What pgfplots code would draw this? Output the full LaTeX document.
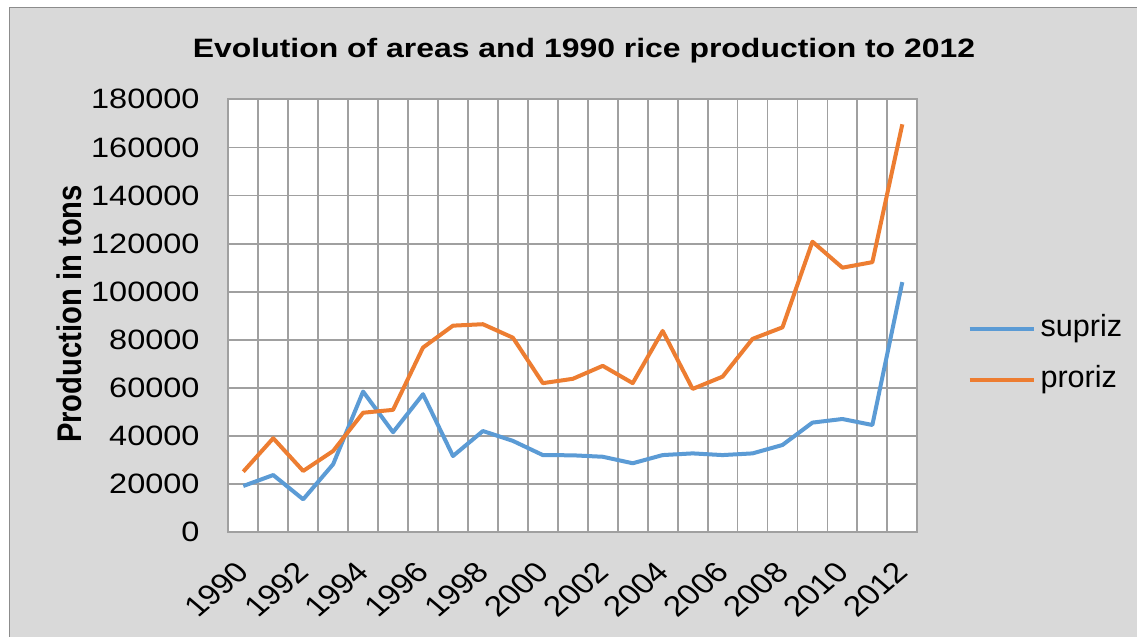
\documentclass[border=0pt]{standalone}
\usepackage{fontspec}
\setmainfont{Liberation Sans}
\usepackage{pgfplots}
\usepackage{pgfplotstable}
\pgfplotsset{compat=1.18}
\definecolor{bgray}{HTML}{D9D9D9}
\definecolor{framegray}{HTML}{8C8C8C}
\definecolor{gridgray}{HTML}{A0A0A0}
\definecolor{sblue}{HTML}{5B9BD5}
\definecolor{porange}{HTML}{ED7D31}
\pgfplotstableread{
year supriz proriz
1990 19250 25200
1991 23800 39100
1992 13700 25500
1993 28300 33800
1994 58500 49700
1995 41600 50900
1996 57400 76800
1997 31700 85900
1998 42100 86500
1999 38000 80900
2000 32100 62000
2001 32000 63800
2002 31400 69200
2003 28700 62000
2004 32100 83700
2005 32800 59600
2006 32100 64700
2007 32800 80400
2008 36300 85200
2009 45600 120800
2010 47100 110000
2011 44600 112300
2012 104000 169600
}\datatable
\begin{document}
\begin{tikzpicture}
\useasboundingbox (0pt,0pt) rectangle (568.5pt,318.5pt);
\fill[bgray] (4.8pt,-10pt) rectangle (580pt,314.8pt);
\draw[framegray, line width=0.6pt] (4.8pt,-10pt) -- (4.8pt,314.8pt) -- (580pt,314.8pt);
\node[font=\fontsize{13.3}{16}\selectfont\bfseries, anchor=base, xscale=1.2] at (292pt,289.85pt) {Evolution of areas and 1990 rice production to 2012};
\node[font=\fontsize{14.6}{16}\selectfont\bfseries, anchor=base, xscale=1.17, rotate=90] at (40.85pt,161.5pt) {Production in tons};
\begin{axis}[
  at={(114.15pt,52.35pt)}, anchor=south west,
  scale only axis, width=344.5pt, height=216.5pt,
  xmin=1989.5, xmax=2012.5, ymin=0, ymax=180000,
  xtick={1990,1992,...,2012},
  minor xtick={1989.5,1990.5,...,2012.5},
  ytick={0,20000,...,180000},
  scaled y ticks=false, scaled x ticks=false,
  /pgf/number format/fixed,
  /pgf/number format/precision=0,
  /pgf/number format/1000 sep={},
  /pgf/number format/assume math mode=true,
  xmajorgrids=false, xminorgrids=true, ymajorgrids=true,
  grid style={gridgray, line width=0.9pt},
  minor grid style={gridgray, line width=0.9pt},
  axis line style={gridgray, line width=0.9pt},
  major tick length=0pt, minor tick length=0pt,
  axis background/.style={fill=white},
  yticklabel style={font=\fontsize{14}{14}\selectfont, anchor=east, inner sep=0pt, xshift=-14.15pt, xscale=1.16},
  xticklabel style={font=\fontsize{14.3}{14}\selectfont, anchor=east, inner sep=0pt, yshift=-17.2pt, xscale=1.17, rotate=45},
  legend style={at={(1,0.41)}, anchor=west, xshift=24.9pt, draw=none, fill=none, inner sep=0pt,
    row sep=11pt, column sep=2.5pt, font=\fontsize{15.3}{15.3}\selectfont,
    nodes={inner sep=0pt, text height=11pt, text depth=3.5pt}},
  legend cell align=left,
  legend image code/.code={\draw[#1] (0pt,0pt) -- (32pt,0pt);},
]
\addplot[sblue, line width=2pt, line join=round] table[x=year, y=supriz] {\datatable};
\addlegendentry{supriz}
\addplot[porange, line width=2pt, line join=round] table[x=year, y=proriz] {\datatable};
\addlegendentry{proriz}
\end{axis}
\end{tikzpicture}
\end{document}
